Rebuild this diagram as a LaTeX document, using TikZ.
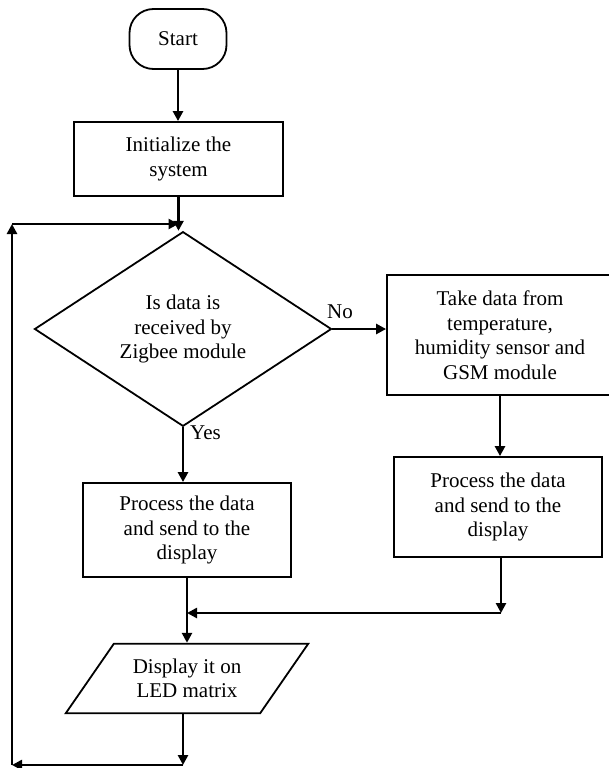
\documentclass[tikz,border=0pt]{standalone}
\usepackage{fontspec}
\setmainfont{Liberation Serif}
\usetikzlibrary{shapes.geometric,arrows.meta,calc}
\begin{document}
\begin{tikzpicture}[x=1pt,y=-1pt,
  every node/.style={font=\fontsize{21}{24.5}\selectfont, align=center, inner sep=0pt},
  boxstyle/.style={draw, line width=1.8pt, rectangle},
  arr/.style={line width=2.6pt, -{Triangle[length=10pt,width=10pt]}}]
\useasboundingbox (0,0) rectangle (609,768);
\node[boxstyle, rounded corners=24pt, minimum width=97pt, minimum height=60pt] (start) at (178,39) {Start};
\node[boxstyle, minimum width=209pt, minimum height=74pt] (init) at (178.5,159) {Initialize the\\system};
\node[draw, line width=1.8pt, diamond, minimum width=297pt, minimum height=163pt] (dia) at (183,329) {Is data is\\received by\\Zigbee module};
\node[boxstyle, minimum width=226pt, minimum height=120pt] (take) at (500,335) {Take data from\\temperature,\\humidity sensor and\\GSM module};
\node[boxstyle, minimum width=208pt, minimum height=100pt] (proc2) at (498,507) {Process the data\\and send to the\\display};
\node[boxstyle, minimum width=208pt, minimum height=94pt] (proc1) at (187,530) {Process the data\\and send to the\\display};
\node[minimum width=194pt, minimum height=69pt] (disp) at (187,678.5) {Display it on\\LED matrix};
\draw[line width=1.8pt] ($(disp.south west)+(-24,0)$) -- ($(disp.south east)+(-24,0)$) -- ($(disp.north east)+(24,0)$) -- ($(disp.north west)+(24,0)$) -- cycle;
\node[anchor=west] (yes) at (190,433) {Yes};
\node (no) at (340,312) {No};
\coordinate (fbj) at (178.5,224);
\coordinate (tl) at (12,224);
\coordinate (bl) at (12,765);
\coordinate (b1) at (183,765);
\coordinate (jr) at (501,613);
\draw[arr] (start.south) -- (start.south |- init.north);
\draw[arr] (init.south) -- (init.south |- dia.north);
\draw[arr] (dia.south) -- (dia.south |- proc1.north);
\draw[arr] (dia.east) -- (dia.east -| take.west);
\draw[arr] (take.south) -- (take.south |- proc2.north);
\draw[arr] (proc2.south -| jr) -- (jr);
\draw[arr] (jr) -- (jr -| proc1.south);
\draw[arr] (proc1.south) -- ($(disp.north)+(0,-1)$);
\draw[arr] (disp.south -| b1) -- (b1);
\draw[arr] (b1) -- (bl);
\draw[arr] (bl) -- (tl);
\draw[arr] (tl) -- (fbj);
\end{tikzpicture}
\end{document}
